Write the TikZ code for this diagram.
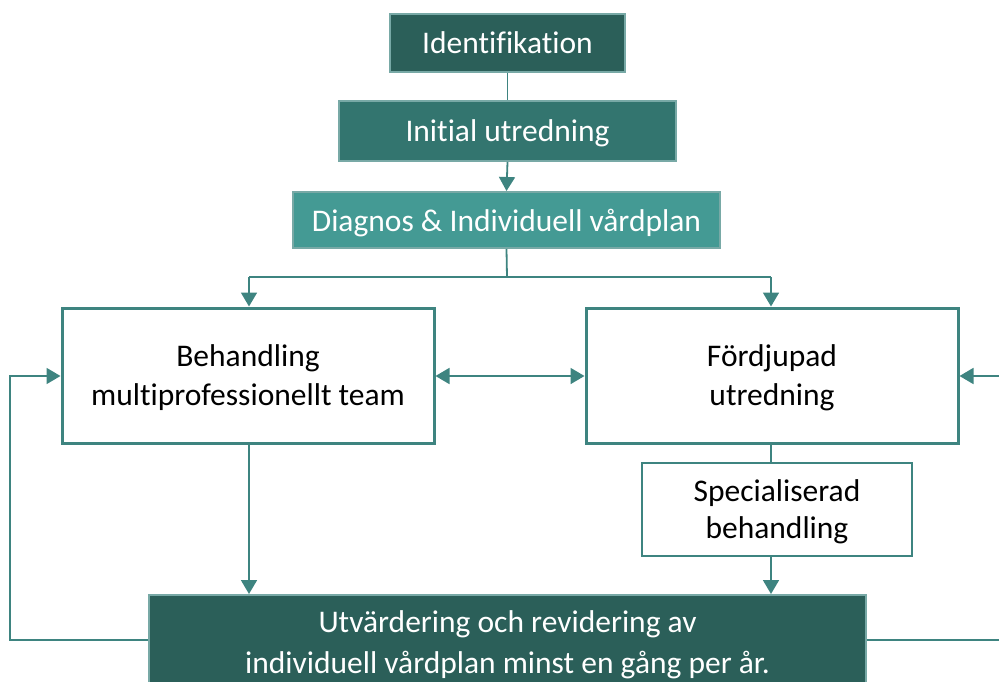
\documentclass[tikz,border=0pt]{standalone}
\usepackage{fontspec}
\setmainfont{Carlito}[Ligatures=NoCommon]
\usetikzlibrary{arrows.meta}
\definecolor{tdark}{HTML}{2B5F59}
\definecolor{tmid}{HTML}{33756F}
\definecolor{tlight}{HTML}{449A94}
\definecolor{tline}{HTML}{3E8480}
\begin{document}
\begin{tikzpicture}[x=1pt,y=-1pt,
  fillbox/.style={draw=tline!70!white,line width=2pt,text=white,inner sep=0pt,font=\fontsize{31.5}{39}\selectfont},
  whitebox/.style={draw=tline,line width=3pt,fill=white,text=black,inner sep=0pt,align=center,text depth=0pt,font=\fontsize{31.5}{39}\selectfont},
  conn/.style={draw=tline,line width=1.8pt},
  arr/.style={conn,-{Triangle[width=16pt,length=14pt]}},
  darr/.style={conn,{Triangle[width=16pt,length=14pt]}-{Triangle[width=16pt,length=14pt]}}]
\useasboundingbox (0,0) rectangle (999,682);
\begin{scope}
\clip (0,0) rectangle (999,682);
% nodes
\node[fillbox,fill=tdark,minimum width=235pt,minimum height=58pt] (ident) at (507.5,43) {Identifikation};
\node[fillbox,fill=tmid,minimum width=337pt,minimum height=60pt,text depth=0pt] (init) at (507.5,131) {Initial utredning};
\node[fillbox,fill=tlight,minimum width=427pt,minimum height=56pt,text depth=0pt] (diag) at (506.5,220) {Diagnos \& Individuell vårdplan};
\node[whitebox,minimum width=372pt,minimum height=135pt] (beh) at (248,375.5) {Behandling\\multiprofessionellt team};
\node[whitebox,minimum width=372pt,minimum height=135pt] (ford) at (772,375.5) {Fördjupad\\utredning};
\node[whitebox,line width=2.5pt,minimum width=270pt,minimum height=93pt,font=\fontsize{31.5}{37}\selectfont] (spec) at (777,509.5) {Specialiserad\\behandling};
\node[fillbox,fill=tdark,minimum width=717pt,minimum height=100pt,align=center,font=\fontsize{31.5}{41}\selectfont,anchor=north] (utv) at (507.5,594) {Utvärdering och revidering av\\individuell vårdplan minst en gång per år.};
% coordinates
\coordinate (split) at (507,277);
\coordinate (lt) at (249,277);
\coordinate (rt) at (771,277);
\coordinate (lx) at (10,640);
\coordinate (ly) at (10,376);
\coordinate (rx) at (1005,640);
\coordinate (ry) at (1005,376);
% connectors
\draw[conn] (ident.south) -- (init.north);
\draw[arr] (init.south) -- (diag.north);
\draw[conn] (diag.south) -- (split);
\draw[arr] (lt) -- (rt) (lt) -- (beh.north -| lt);
\draw[arr] (rt) -- (ford.north -| rt);
\draw[darr] (beh.east |- 0,376) -- (ford.west |- 0,376);
\draw[arr] (beh.south -| 249,0) -- (utv.north -| 249,0);
\draw[conn] (ford.south -| 771,0) -- (spec.north -| 771,0);
\draw[arr] (spec.south -| 771,0) -- (utv.north -| 771,0);
\draw[arr] (utv.west |- lx) -- (lx) -- (ly) -- (beh.west |- ly);
\draw[conn] (utv.east |- rx) -- (rx);
\draw[arr] (ry) -- (ford.east |- ry);
\end{scope}
\end{tikzpicture}
\end{document}
